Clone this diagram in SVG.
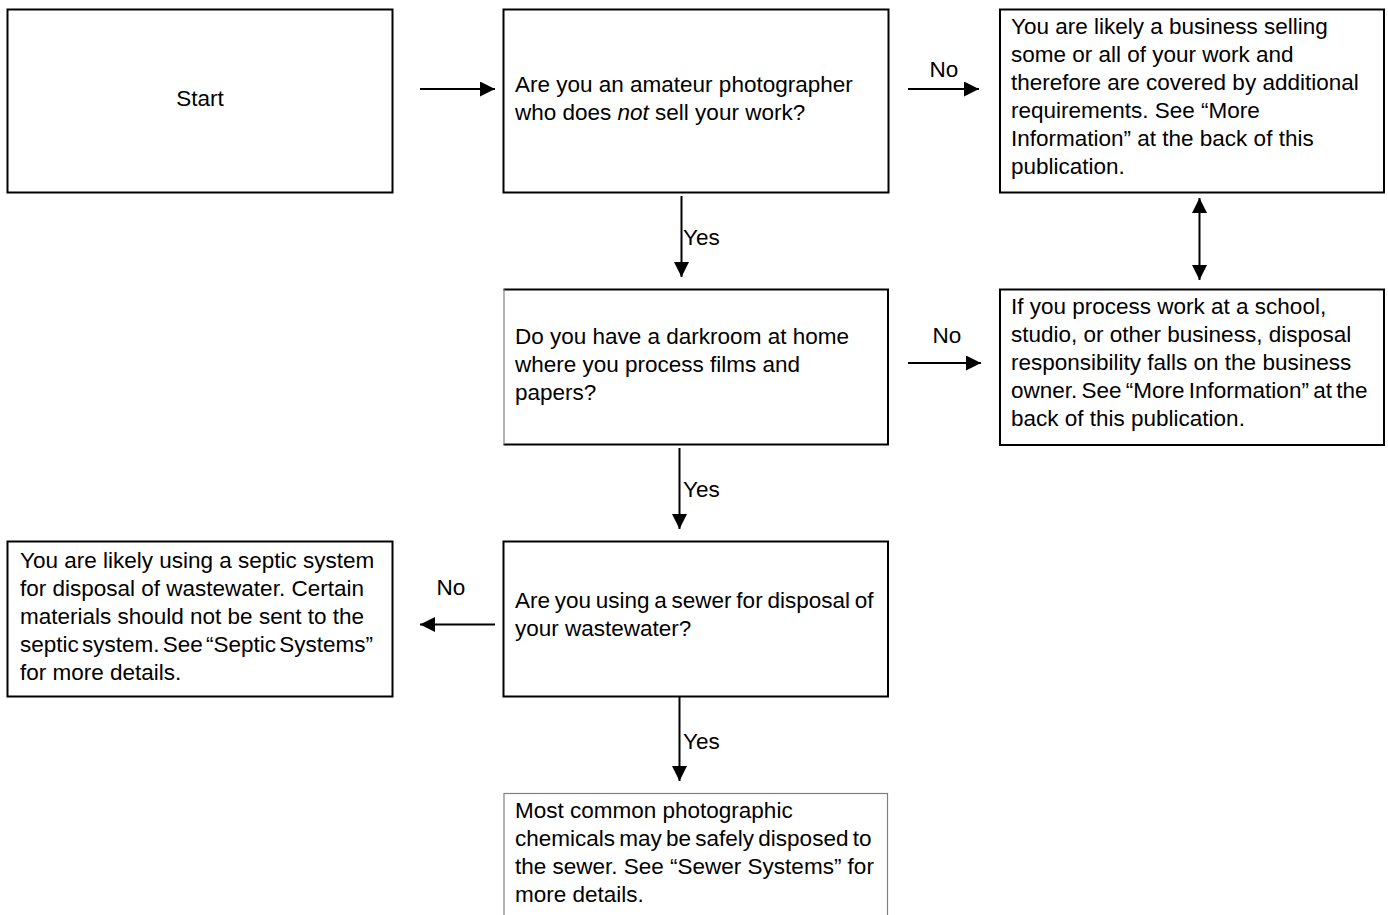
<svg xmlns="http://www.w3.org/2000/svg" width="1388" height="915" viewBox="0 0 1388 915">
<style>
  .box { fill: #ffffff; stroke: #000000; stroke-width: 2; }
  .edge { stroke: #000000; stroke-width: 2; fill: none; }
  .thin { stroke: #808080; stroke-width: 1.2; fill: none; }
  text { font-family: "Liberation Sans", Arial, Helvetica, sans-serif; font-size: 22.5px; fill: #000000; }
  .conn { stroke: #000000; stroke-width: 2; fill: none; marker-end: url(#ah); }
  .conn2 { stroke: #000000; stroke-width: 2; fill: none; marker-end: url(#ah); marker-start: url(#ah); }
</style>
<defs>
  <marker id="ah" markerUnits="userSpaceOnUse" markerWidth="15" markerHeight="15" refX="15" refY="7.5" orient="auto-start-reverse">
    <path d="M0,0 L15,7.5 L0,15 Z" fill="#000000"/>
  </marker>
</defs>
<rect x="0" y="0" width="1388" height="915" fill="#ffffff"/>

<g id="start">
  <rect class="box" x="7.5" y="9.5" width="385" height="183"/>
  <text x="200" y="105.5" text-anchor="middle">Start</text>
</g>

<g id="q-amateur">
  <rect class="box" x="503.5" y="9.5" width="385" height="183"/>
  <text x="515" y="92">Are you an amateur photographer</text>
  <text x="515" y="120">who does <tspan font-style="italic">not</tspan> sell your work?</text>
</g>

<g id="business">
  <rect class="box" x="1000" y="9.5" width="384" height="183"/>
  <text x="1011" y="33.5">You are likely a business selling</text>
  <text x="1011" y="61.5">some or all of your work and</text>
  <text x="1011" y="89.5">therefore are covered by additional</text>
  <text x="1011" y="117.5">requirements. See “More</text>
  <text x="1011" y="145.5">Information” at the back of this</text>
  <text x="1011" y="173.5">publication.</text>
</g>

<g id="school">
  <rect class="box" x="1000" y="289.5" width="384" height="155.5"/>
  <text x="1011" y="313.5">If you process work at a school,</text>
  <text x="1011" y="341.5">studio, or other business, disposal</text>
  <text x="1011" y="369.5">responsibility falls on the business</text>
  <text x="1011" y="397.5" word-spacing="-2">owner. See “More Information” at the</text>
  <text x="1011" y="425.5">back of this publication.</text>
</g>

<g id="q-darkroom">
  <rect x="504" y="289" width="384" height="155.5" fill="#ffffff"/>
  <path class="edge" d="M503.5,289.5 H888 V444.5 H503.5"/>
  <line class="thin" x1="504" y1="289" x2="504" y2="444.5"/>
  <text x="515" y="343.5">Do you have a darkroom at home</text>
  <text x="515" y="371.5">where you process films and</text>
  <text x="515" y="399.5">papers?</text>
</g>

<g id="septic">
  <rect class="box" x="7.5" y="541.5" width="385" height="155"/>
  <text x="20" y="567.5">You are likely using a septic system</text>
  <text x="20" y="595.5">for disposal of wastewater. Certain</text>
  <text x="20" y="623.5">materials should not be sent to the</text>
  <text x="20" y="651.5" word-spacing="-3">septic system. See “Septic Systems”</text>
  <text x="20" y="679.5">for more details.</text>
</g>

<g id="q-sewer">
  <rect class="box" x="503.5" y="541.5" width="384.5" height="155"/>
  <text x="515" y="608" word-spacing="-1.5">Are you using a sewer for disposal of</text>
  <text x="515" y="636">your wastewater?</text>
</g>

<g id="sewer-ok">
  <rect class="thin" x="504" y="793.5" width="383.5" height="140" fill="#ffffff"/>
  <text x="515" y="818">Most common photographic</text>
  <text x="515" y="846" word-spacing="-2">chemicals may be safely disposed to</text>
  <text x="515" y="874">the sewer. See “Sewer Systems” for</text>
  <text x="515" y="902">more details.</text>
</g>

<g id="connectors">
  <line class="conn" x1="420" y1="89" x2="495" y2="89"/>
  <line class="conn" x1="908" y1="89" x2="979" y2="89"/>
  <line class="conn" x1="681.5" y1="196" x2="681.5" y2="277"/>
  <line class="conn2" x1="1199.5" y1="198" x2="1199.5" y2="280"/>
  <line class="conn" x1="908" y1="363" x2="981" y2="363"/>
  <line class="conn" x1="679.5" y1="448" x2="679.5" y2="529"/>
  <line class="conn" x1="495" y1="624.5" x2="420" y2="624.5"/>
  <line class="conn" x1="679.5" y1="697" x2="679.5" y2="781"/>
  <text x="944" y="77" text-anchor="middle">No</text>
  <text x="683" y="245">Yes</text>
  <text x="947" y="342.5" text-anchor="middle">No</text>
  <text x="683" y="497">Yes</text>
  <text x="451" y="595" text-anchor="middle">No</text>
  <text x="683" y="749">Yes</text>
</g>
</svg>
